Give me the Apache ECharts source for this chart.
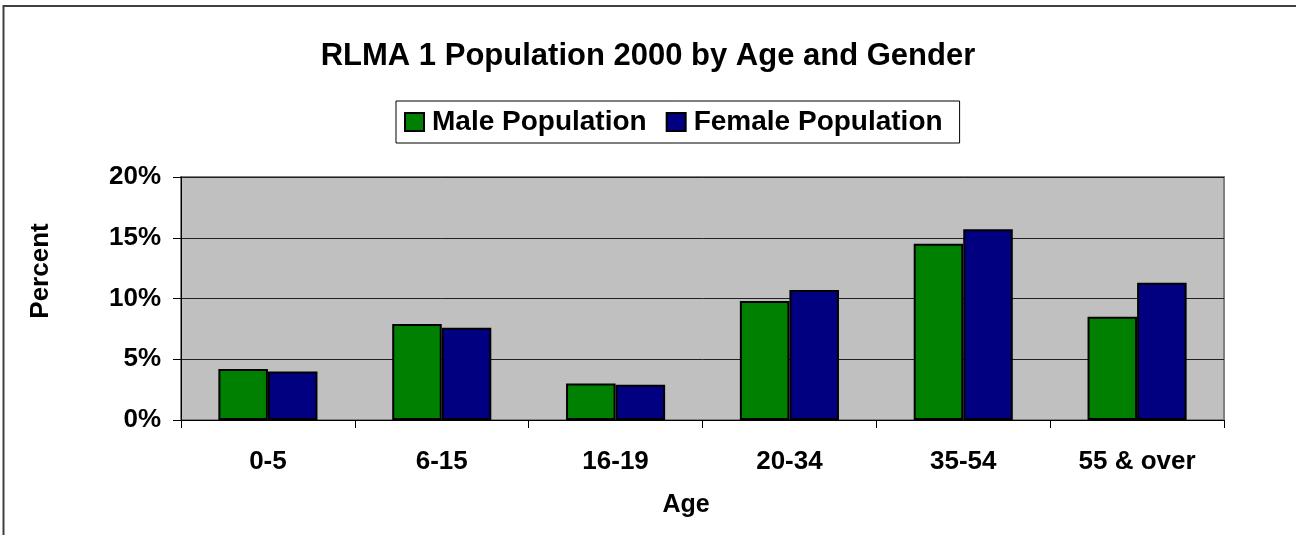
<!DOCTYPE html>
<html>
<head>
<meta charset="utf-8">
<script src="https://cdn.jsdelivr.net/npm/echarts@6/dist/echarts.min.js"></script>
<style>
html, body { margin: 0; padding: 0; background: #fff; }
#main { width: 1296px; height: 535px; }
</style>
</head>
<body>
<div id="main"></div>
<script>
// values, in percent
let ageGroups = ['0-5', '6-15', '16-19', '20-34', '35-54', '55 & over'];
let malePct = [4.2, 7.9, 3.0, 9.8, 14.5, 8.5];
let femalePct = [4.0, 7.6, 2.9, 10.7, 15.7, 11.3];
let seriesNames = ['Male Population', 'Female Population'];

let font = 'Liberation Sans, Arial, sans-serif';
let myChart = echarts.init(document.getElementById('main'));

let option = {
    animation: false,
    textStyle: { fontFamily: font },
    graphic: [
        {
            type: 'rect',
            shape: { x: 3.5, y: 6, width: 1310, height: 560 },
            style: { fill: 'none', stroke: '#404040', lineWidth: 2 },
            silent: true
        },
        {
            // y axis title, sits a little above the plot middle in the original
            type: 'text',
            x: 41,
            y: 271,
            rotation: Math.PI / 2,
            style: {
                text: 'Percent',
                fontFamily: font,
                fontSize: 26,
                fontWeight: 'bold',
                fill: '#000',
                align: 'center',
                verticalAlign: 'middle'
            }
        }
    ],
    title: {
        text: 'RLMA 1 Population 2000 by Age and Gender',
        left: 'center',
        top: 36,
        padding: [5, 5, 5, 17],
        textStyle: { fontFamily: font, fontSize: 31, fontWeight: 'bold', color: '#000' }
    },
    legend: {
        data: seriesNames,
        icon: 'rect',
        top: 101,
        left: 396,
        itemWidth: 19,
        itemHeight: 18,
        itemGap: 19,
        padding: [7, 17, 7, 8],
        borderColor: '#000',
        borderWidth: 1,
        backgroundColor: '#fff',
        textStyle: { fontFamily: font, fontSize: 28, fontWeight: 'bold', color: '#000', padding: [0, 0, 0, 3] }
    },
    grid: {
        left: 181, right: 72, top: 177, bottom: 115,
        show: true,
        backgroundColor: '#c0c0c0',
        borderColor: '#808080',
        borderWidth: 2
    },
    xAxis: {
        type: 'category',
        data: ageGroups,
        name: 'Age',
        nameLocation: 'middle',
        nameGap: 73,
        nameTextStyle: { fontFamily: font, fontSize: 25, fontWeight: 'bold', color: '#000', padding: [0, 33, 0, 0] },
        axisLine: { lineStyle: { color: '#000' } },
        axisTick: { show: true, length: 8, lineStyle: { color: '#000' } },
        axisLabel: { fontFamily: font, fontSize: 26, fontWeight: 'bold', color: '#000', margin: 29 }
    },
    yAxis: {
        type: 'value',
        min: 0,
        max: 20,
        interval: 5,
        axisLine: { show: true, lineStyle: { color: '#000' } },
        axisTick: { show: true, length: 8, lineStyle: { color: '#000' } },
        axisLabel: { fontFamily: font, fontSize: 26, fontWeight: 'bold', color: '#000', margin: 20, formatter: '{value}%' },
        splitLine: { lineStyle: { color: '#202020', width: 1 } }
    },
    series: [
        {
            name: seriesNames[0],
            type: 'bar',
            data: malePct,
            barGap: '0%',
            barCategoryGap: '43%',
            itemStyle: { color: '#008000', borderColor: '#000', borderWidth: 2 }
        },
        {
            name: seriesNames[1],
            type: 'bar',
            data: femalePct,
            itemStyle: { color: '#000080', borderColor: '#000', borderWidth: 2 }
        }
    ]
};
myChart.setOption(option);
</script>
</body>
</html>
